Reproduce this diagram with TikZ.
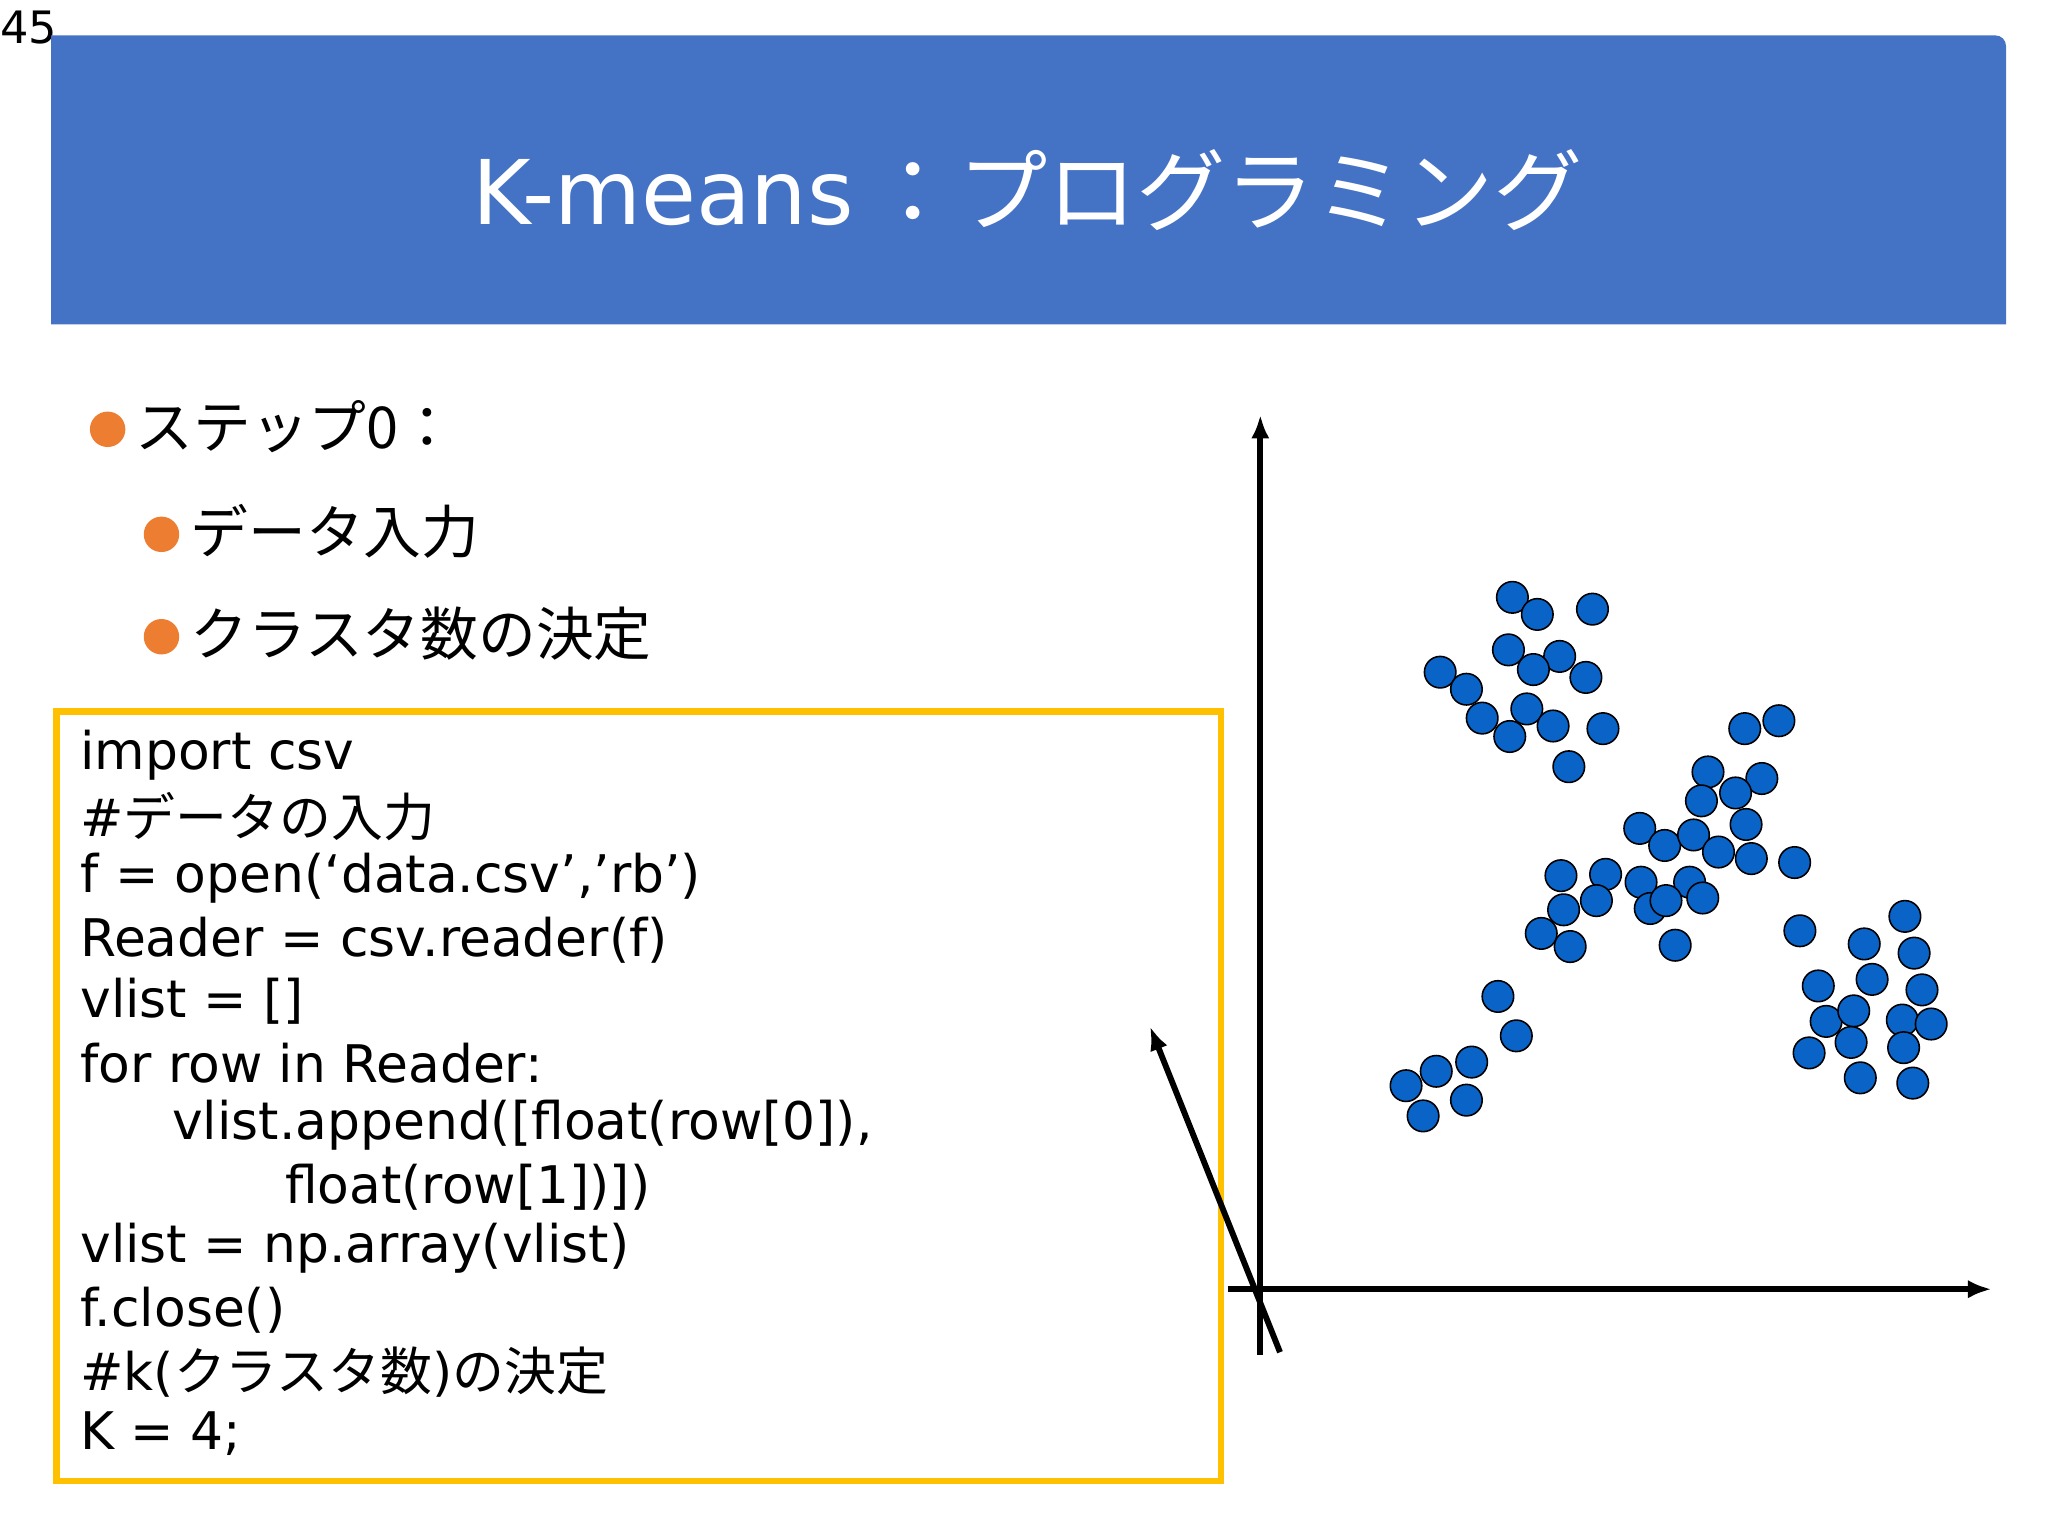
\documentclass[tikz,border=0pt]{standalone}
\usepackage{fontspec}
\setmainfont{DejaVu Sans}
\newfontfamily\jp{Noto Sans CJK JP}
\definecolor{tbar}{HTML}{4472C4}
\definecolor{bul}{HTML}{ED7D31}
\definecolor{cbox}{HTML}{FFC000}
\definecolor{dotc}{HTML}{0A64C8}
\usetikzlibrary{arrows.meta}
\begin{document}
\begin{tikzpicture}[x=1pt,y=-1pt,
  codeline/.style={anchor=west,inner sep=0,font=\fontsize{39.5}{44}\selectfont},
  bulltext/.style={anchor=west,inner sep=0,font=\jp\fontsize{44}{50}\selectfont},
  bulletdot/.style={circle,fill=bul,minimum size=27pt,inner sep=0},
  pt/.style={circle,draw=black,line width=1.2pt,fill=dotc,minimum size=24pt,inner sep=0},
  axis/.style={line width=4.5pt,-{Latex[length=18pt,width=14pt]}}]
\useasboundingbox (0,0) rectangle (1560,1170);
\node[anchor=north west,inner sep=0,font=\fontsize{34}{36}\selectfont] (pg) at (0,8) {45};
\fill[tbar] (39,27) -- (1520,27) to[out=0,in=90] (1528,35) -- (1528,247) -- (39,247) -- cycle;
\node[text=white,font=\fontsize{68}{80}\selectfont] (title) at (783,145) {K-means\,{\jp ：プログラミング}};
\node[bulletdot] (b1) at (82,327) {};
\node[bulltext] (t1) at (103,325) {ステップ0：};
\node[bulletdot] (b2) at (123,407) {};
\node[bulltext] (t2) at (145,405) {データ入力};
\node[bulletdot] (b3) at (123,485) {};
\node[bulltext] (t3) at (145,483) {クラスタ数の決定};
% axes
\coordinate (vb) at (960,1032); \coordinate (vt) at (960,316);
\coordinate (hl) at (935,982); \coordinate (hr) at (1517,982);
\draw[axis] (vb) -- (vt);
\draw[axis] (hl) -- (hr);
% code box
\draw[cbox,line width=5pt,fill=white] (43,542) rectangle (930,1128);
\coordinate (db) at (975,1030); \coordinate (dt) at (876,782);
\draw[axis] (db) -- (dt);
\node[codeline] (c1) at (61,575) {import csv};
\node[codeline] (c2) at (61,622) {\#{\jp データの入力}};
\node[codeline] (c3) at (61,669) {f = open(‘data.csv’,’rb’)};
\node[codeline] (c4) at (61,716) {Reader = csv.reader(f)};
\node[codeline] (c5) at (61,763) {vlist = []};
\node[codeline] (c6) at (61,810) {for row in Reader:};
\node[codeline] (c7) at (131,857) {vlist.append([float(row[0]),};
\node[codeline] (c8) at (217,904) {float(row[1])])};
\node[codeline] (c9) at (61,951) {vlist = np.array(vlist)};
\node[codeline] (c10) at (61,998) {f.close()};
\node[codeline] (c11) at (61,1045) {\#k({\jp クラスタ数})\jp の決定};
\node[codeline] (c12) at (61,1092) {K = 4;};
\foreach \x/\y [count=\i] in {1152/455,1171/468,1213/464,1149/495,1188/500,1168/510,1208/516,1097/512,1117/525,1163/540,1129/547,1150/561,1183/553,1221/555,1195/584,
1329/555,1355/549,1301/588,1342/593,1296/610,1322/604,1249/631,1268/644,1290/636,1330/628,1309/649,1334/654,1367/657,
1189/667,1223/666,1250/672,1287/672,1191/693,1216/686,1257/692,1269/686,1297/684,1174/711,1196/721,1276/720,
1141/759,1155/789,1121/809,1094/816,1071/827,1117/838,1084/850,
1371/709,1451/698,1420/719,1458/726,1385/751,1426/746,1464/754,1391/778,1412/770,1449/777,1471/780,1378/802,1410/794,1450/798,1417/821,1457/825}
  \node[pt] (p\i) at (\x,\y) {};
\end{tikzpicture}
\end{document}
